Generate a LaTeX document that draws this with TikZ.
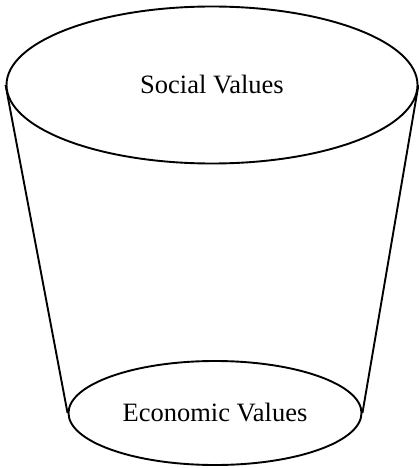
\documentclass[tikz,border=0pt]{standalone}
\usepackage{fontspec}
\setmainfont{Liberation Serif}
\usetikzlibrary{shapes.geometric}

\begin{document}
\begin{tikzpicture}[x=1pt,y=1pt,line width=1.9pt,
    value node/.style={ellipse,draw,inner sep=0pt,font=\fontsize{26.5}{30}\selectfont}]
  \useasboundingbox (0,0) rectangle (419,-468);

  \node[value node,minimum width=411pt,minimum height=157pt] (social) at (212,-85) {Social Values};
  \node[value node,minimum width=293pt,minimum height=104pt] (economic) at (215,-413) {Economic Values};

  % sides of the cup
  \draw (social.west) -- (economic.west)
        (social.east) -- (economic.east);

\end{tikzpicture}
\end{document}
